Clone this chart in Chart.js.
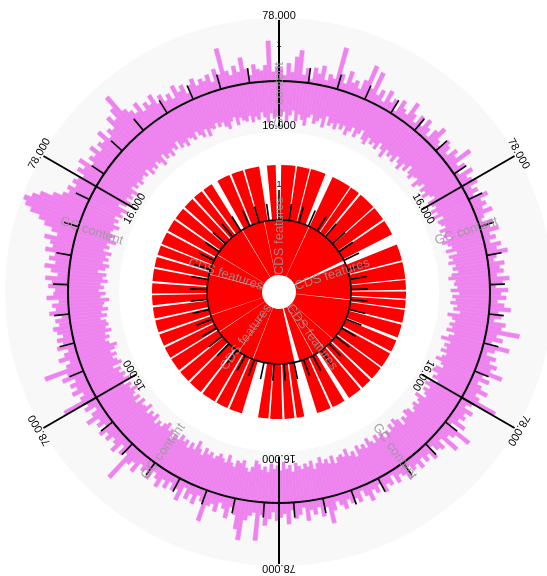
<!DOCTYPE html>
<html>
<head>
<meta charset="utf-8">
<script src="https://cdn.jsdelivr.net/npm/chart.js@4.4.0/dist/chart.umd.min.js"></script>
<style>
  html, body { margin: 0; padding: 0; background: #fff; overflow: hidden; }
  #wrap { position: relative; width: 547px; height: 576px; overflow: hidden; }
  #cds { position: absolute; left: 152px; top: 165px; }
  #gc { position: absolute; left: -11px; top: 2px; }
</style>
</head>
<body>
<div id="wrap">
  <canvas id="cds" width="254" height="254"></canvas>
  <canvas id="gc" width="580" height="580"></canvas>
</div>
<script>
// GC 축 라벨
const gcAxisMin = 16;
const gcAxisMax = 78;
const gcAxisLabels = ['16.000', '78.000'];
const axisAngles = [0, 60, 120, 180, 240, 300];

// GC content : 360 windows (1 deg each), bar from gcLow to gcHigh
const gcHigh = [
  50, 46, 53, 48, 57, 61, 47, 51, 45, 52,
  49, 54, 46, 50, 48, 67, 52, 47, 55, 49,
  51, 47, 53, 63, 50, 61, 48, 52, 46, 54,
  48, 51, 45, 53, 49, 47, 56, 50, 46, 52,
  47, 53, 49, 45, 51, 55, 48, 46, 52, 50,
  46, 52, 49, 58, 47, 51, 45, 53, 48, 50,
  52, 47, 50, 46, 54, 49, 51, 48, 53, 47,
  45, 51, 48, 53, 47, 50, 46, 52, 49, 55,
  48, 46, 52, 49, 51, 47, 54, 50, 46, 53,
  49, 52, 47, 51, 55, 48, 50, 46, 53, 51,
  62, 49, 53, 47, 58, 50, 46, 52, 49, 54,
  51, 59, 48, 53, 47, 50, 55, 49, 52, 64,
  50, 47, 53, 49, 51, 48, 54, 46, 61, 52,
  49, 58, 47, 52, 50, 46, 53, 48, 51, 47,
  52, 48, 50, 46, 53, 49, 47, 51, 45, 50,
  48, 52, 46, 50, 47, 53, 49, 45, 51, 48,
  50, 47, 52, 49, 46, 51, 58, 48, 53, 47,
  51, 48, 54, 46, 50, 52, 47, 55, 49, 51,
  53, 48, 52, 56, 50, 65, 49, 51, 54, 66,
  60, 52, 48, 55, 50, 47, 53, 49, 51, 61,
  50, 47, 53, 48, 52, 46, 55, 49, 51, 47,
  52, 48, 54, 50, 47, 53, 49, 51, 48, 55,
  50, 53, 66, 49, 52, 47, 54, 50, 48, 52,
  49, 53, 47, 51, 48, 55, 50, 46, 52, 49,
  63, 51, 48, 54, 50, 53, 49, 56, 52, 65,
  51, 48, 54, 50, 47, 53, 49, 52, 48, 51,
  53, 49, 51, 47, 54, 50, 52, 48, 55, 51,
  50, 54, 52, 56, 49, 53, 57, 51, 55, 52,
  58, 54, 56, 60, 53, 57, 62, 66, 72, 76,
  78, 74, 70, 63, 58, 55, 57, 53, 56, 54,
  52, 57, 54, 59, 51, 55, 53, 58, 52, 56,
  54, 60, 53, 57, 55, 62, 58, 64, 71, 59,
  56, 53, 58, 51, 55, 52, 57, 50, 54, 49,
  52, 48, 55, 50, 53, 47, 51, 54, 49, 52,
  50, 53, 48, 55, 51, 66, 52, 49, 54, 50,
  58, 51, 47, 53, 50, 49, 52, 66, 48, 51,
];
const gcLow = [
  22, 25, 19, 23, 26, 20, 24, 21, 18, 23,
  25, 20, 22, 24, 19, 26, 21, 23, 20, 24,
  21, 24, 19, 22, 25, 20, 23, 26, 21, 19,
  24, 21, 23, 20, 25, 22, 18, 24, 21, 23,
  20, 25, 22, 19, 24, 21, 26, 22, 20, 23,
  24, 19, 22, 25, 21, 23, 20, 24, 26, 21,
  22, 24, 20, 23, 19, 25, 21, 22, 24, 20,
  23, 21, 25, 19, 22, 24, 20, 26, 21, 23,
  20, 24, 22, 25, 21, 19, 23, 22, 24, 20,
  25, 21, 23, 20, 24, 22, 26, 19, 22, 24,
  21, 23, 20, 25, 22, 18, 24, 21, 23, 20,
  24, 22, 19, 23, 25, 21, 20, 24, 22, 26,
  22, 20, 24, 21, 23, 25, 19, 22, 24, 21,
  23, 25, 21, 20, 24, 22, 26, 21, 19, 23,
  20, 24, 22, 25, 21, 23, 20, 24, 22, 19,
  24, 21, 23, 20, 26, 22, 24, 19, 23, 21,
  22, 25, 20, 24, 21, 23, 19, 22, 25, 20,
  23, 21, 24, 22, 20, 25, 21, 23, 19, 24,
  21, 23, 20, 25, 22, 24, 21, 19, 23, 26,
  24, 20, 22, 21, 25, 23, 19, 24, 22, 20,
  22, 24, 21, 23, 20, 25, 22, 18, 24, 21,
  25, 21, 23, 20, 24, 22, 26, 21, 23, 19,
  21, 24, 22, 25, 20, 23, 21, 24, 19, 22,
  23, 20, 25, 21, 24, 22, 19, 23, 21, 25,
  20, 23, 21, 24, 22, 26, 20, 22, 24, 21,
  24, 21, 19, 23, 25, 22, 24, 20, 23, 21,
  22, 25, 21, 24, 20, 23, 22, 19, 24, 21,
  25, 22, 24, 20, 23, 21, 26, 22, 20, 24,
  21, 23, 20, 25, 22, 24, 19, 23, 21, 24,
  23, 20, 24, 22, 25, 21, 23, 20, 26, 22,
  20, 24, 21, 23, 19, 25, 22, 24, 21, 23,
  24, 22, 25, 20, 23, 21, 24, 22, 19, 25,
  21, 23, 20, 24, 22, 26, 21, 23, 20, 24,
  23, 21, 25, 22, 20, 24, 19, 23, 22, 25,
  22, 24, 21, 19, 23, 25, 20, 24, 22, 21,
  24, 20, 23, 21, 25, 22, 19, 24, 21, 23,
];

// CDS features (genome position in degrees, 0 = top, clockwise)
const cdsOuterStart = [1, 8.2, 14.6, 25, 34.6, 40, 48.6, 56, 68, 76.3, 84.6, 89.8, 93.7, 98.2, 105, 112.5, 119, 126.8, 134, 140, 149, 156, 168.5, 173, 178.5, 184.8, 197, 204, 210.5, 218, 225.5, 232, 238.8, 245, 251.5, 258, 264, 269.3, 275, 281.5, 287, 292.3, 299, 305.5, 312, 318, 323.5, 331, 338, 344.3, 354.5];
const cdsOuterEnd = [7.5, 14, 21.5, 34, 39, 48, 55, 63, 75.5, 84, 89, 93, 97.5, 104, 111, 118, 126, 133, 139, 146.5, 155, 162.5, 172, 177.5, 184, 189.5, 203, 209.5, 217, 224.5, 231, 238, 244, 250.5, 257, 263, 268.5, 274, 280.5, 286, 291.5, 298, 304.5, 311, 317, 322.5, 328, 337, 343.5, 351, 358.5];
const cdsInnerGapStart = [24.5, 64, 96, 131, 141, 151, 163.5, 201, 214, 236, 251, 284, 301, 329, 348];
const cdsInnerGapEnd = [25, 66.5, 96.5, 131.4, 141.5, 151.5, 167.5, 201.5, 214.4, 236.5, 251.4, 284.5, 301.4, 329.6, 348.4];

const trackLabelAngles = [0, 72, 144, 216, 288];
const tickStep = 8;
const tickCount = 45;
const firstTickLabel = '1';

(function () {
  const GC_COLOR = '#ee82ee';
  const CDS_COLOR = '#ff0000';
  const NONE = 'rgba(0,0,0,0)';
  const LABEL_GREY = 'rgba(150,150,150,0.85)';

  // 반지름 (px)
  const PAD = 16;
  const R_OUT = 274;
  const R_AX_IN = 165;
  const R_AX_OUT = 272;
  const R_BAND_IN = 160;
  const R_GC_LINE = 211;
  const R_CDS_LINE = 72;

  const pxPerUnit = (R_AX_OUT - R_AX_IN) / (gcAxisMax - gcAxisMin);
  const rMin = gcAxisMin - R_AX_IN / pxPerUnit;
  const rMax = rMin + R_OUT / pxPerUnit;

  const rad = (d) => (d * Math.PI) / 180;

  // ---- CDS doughnut rings
  function ring(starts, ends) {
    const data = [];
    const colors = [];
    let pos = 0;
    starts.forEach((s, i) => {
      if (s > pos) {
        data.push(s - pos);
        colors.push(NONE);
      }
      data.push(ends[i] - s);
      colors.push(CDS_COLOR);
      pos = ends[i];
    });
    if (pos < 360) {
      data.push(360 - pos);
      colors.push(NONE);
    }
    return { data, colors };
  }

  const innerStart = [0].concat(cdsInnerGapEnd);
  const innerEnd = cdsInnerGapStart.concat([360]);
  const outer = ring(cdsOuterStart, cdsOuterEnd);
  const inner = ring(innerStart, innerEnd);

  new Chart(document.getElementById('cds'), {
    type: 'doughnut',
    data: {
      datasets: [
        { data: outer.data, backgroundColor: outer.colors, borderWidth: 0 },
        { data: inner.data, backgroundColor: inner.colors, borderWidth: 0 },
      ],
    },
    options: {
      responsive: false,
      animation: false,
      events: [],
      cutout: (17 / 127) * 100 + '%',
      plugins: { legend: { display: false }, tooltip: { enabled: false } },
    },
  });

  // ---- GC track : polar bars with a floating base
  const floatBars = {
    id: 'floatBars',
    afterDatasetUpdate(chart, args) {
      const ds = chart.data.datasets[args.index];
      if (!ds.low) return;
      const scale = chart.scales.r;
      args.meta.data.forEach((arc, i) => {
        arc.innerRadius = scale.getDistanceFromCenterForValue(ds.low[i]);
      });
    },
  };

  const genomeFrame = {
    id: 'genomeFrame',
    beforeDatasetsDraw(chart) {
      const { ctx } = chart;
      const s = chart.scales.r;
      ctx.save();
      ctx.fillStyle = '#f8f8f8';
      ctx.beginPath();
      ctx.arc(s.xCenter, s.yCenter, R_OUT, 0, Math.PI * 2);
      ctx.arc(s.xCenter, s.yCenter, R_BAND_IN, 0, Math.PI * 2, true);
      ctx.fill();
      ctx.restore();
    },
    afterDatasetsDraw(chart) {
      const { ctx } = chart;
      const s = chart.scales.r;
      const cx = s.xCenter;
      const cy = s.yCenter;
      const pt = (deg, r) => [cx + r * Math.sin(rad(deg)), cy - r * Math.cos(rad(deg))];
      const seg = (deg, r1, r2) => {
        const a = pt(deg, r1);
        const b = pt(deg, r2);
        ctx.beginPath();
        ctx.moveTo(a[0], a[1]);
        ctx.lineTo(b[0], b[1]);
        ctx.stroke();
      };
      const text = (str, deg, r, rot) => {
        const p = pt(deg, r);
        ctx.save();
        ctx.translate(p[0], p[1]);
        ctx.rotate(rad(rot));
        ctx.fillText(str, 0, 0);
        ctx.restore();
      };

      ctx.save();
      ctx.strokeStyle = '#000';

      // 원
      ctx.lineWidth = 2;
      ctx.beginPath();
      ctx.arc(cx, cy, R_GC_LINE, 0, Math.PI * 2);
      ctx.stroke();
      ctx.lineWidth = 1.6;
      ctx.beginPath();
      ctx.arc(cx, cy, R_CDS_LINE, 0, Math.PI * 2);
      ctx.stroke();

      // ticks
      ctx.lineWidth = 1.6;
      for (let k = 0; k < tickCount; k++) {
        const deg = k * tickStep;
        seg(deg, R_GC_LINE, R_GC_LINE + (k === 0 ? 29 : 15));
        seg(deg, R_CDS_LINE, R_CDS_LINE + (k === 0 ? 30 : 17));
      }
      ctx.fillStyle = '#000';
      ctx.font = '9px "Liberation Sans", Arial, sans-serif';
      ctx.textAlign = 'center';
      ctx.textBaseline = 'middle';
      text(firstTickLabel, 0, R_GC_LINE + 36, 0);
      text(firstTickLabel, 0, R_CDS_LINE + 35, 0);

      // GC 축
      const rLo = s.getDistanceFromCenterForValue(gcAxisMin);
      const rHi = s.getDistanceFromCenterForValue(gcAxisMax);
      ctx.lineWidth = 2;
      ctx.font = '11px "Liberation Sans", Arial, sans-serif';
      axisAngles.forEach((deg) => {
        seg(deg, rLo, rHi);
        text(gcAxisLabels[0], deg, rLo + 1.5, deg);
        text(gcAxisLabels[1], deg, rHi + 4.5, deg);
      });

      // track labels
      ctx.fillStyle = LABEL_GREY;
      ctx.font = '13px "Liberation Sans", Arial, sans-serif';
      trackLabelAngles.forEach((deg) => {
        const rot = deg < 180 ? deg - 90 : deg - 270;
        text('GC content', deg, 197, rot);
        text('CDS features', deg, 56, rot);
      });
      ctx.restore();
    },
  };

  new Chart(document.getElementById('gc'), {
    type: 'polarArea',
    data: {
      labels: gcHigh.map((_, i) => String(i)),
      datasets: [
        {
          data: gcHigh,
          low: gcLow,
          backgroundColor: GC_COLOR,
          borderColor: GC_COLOR,
          borderWidth: 0.5,
        },
      ],
    },
    options: {
      responsive: false,
      animation: false,
      events: [],
      layout: { padding: PAD },
      scales: {
        r: {
          min: rMin,
          max: rMax,
          bounds: 'data',
          ticks: { display: false },
          grid: { display: false },
          angleLines: { display: false },
          pointLabels: { display: false },
        },
      },
      plugins: { legend: { display: false }, tooltip: { enabled: false } },
    },
    plugins: [floatBars, genomeFrame],
  });
})();
</script>
</body>
</html>
